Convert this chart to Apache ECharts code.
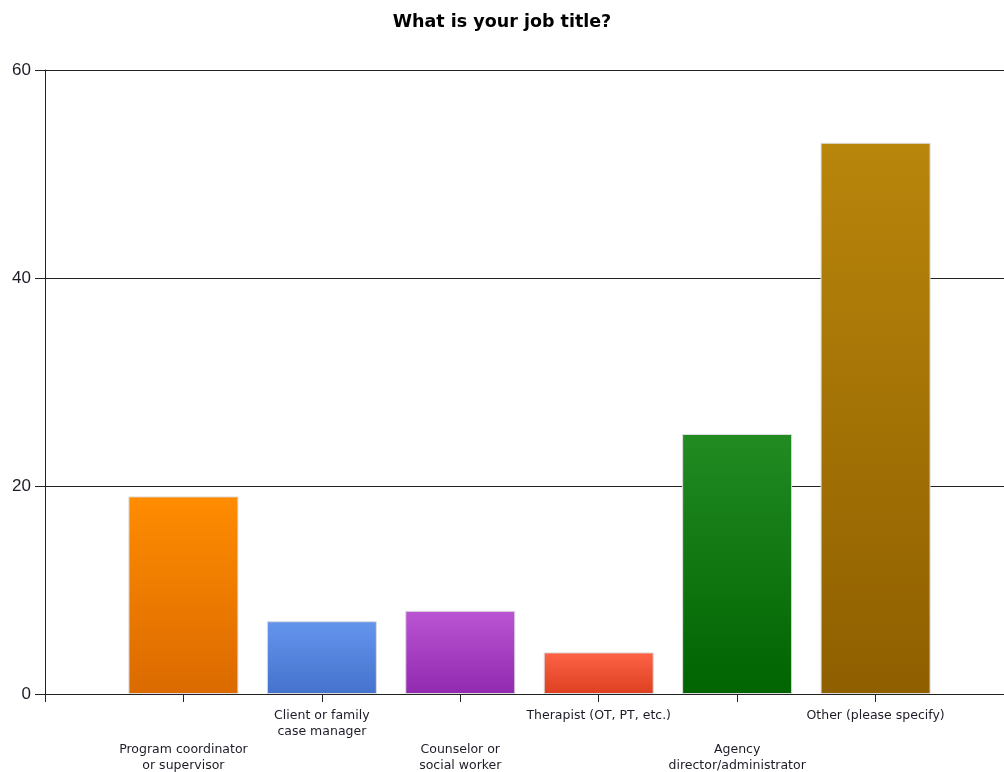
<!DOCTYPE html>
<html>
<head>
<meta charset="utf-8">
<title>What is your job title?</title>
<script src="https://cdn.jsdelivr.net/npm/echarts@6/dist/echarts.min.js"></script>
<style>
  html, body { margin: 0; padding: 0; background: #fff; }
  #chart { width: 1004px; height: 772px; }
</style>
</head>
<body>
<div id="chart"></div>
<script>
// Survey responses: job title of respondents
const categories = [
  'Program coordinator\nor supervisor',
  'Client or family\ncase manager',
  'Counselor or\nsocial worker',
  'Therapist (OT, PT, etc.)',
  'Agency\ndirector/administrator',
  'Other (please specify)'
];
const counts = [19, 7, 8, 4, 25, 53];
const yTicks = [0, 20, 40, 60];

// top / bottom colours of each bar's vertical gradient
const barTop =    ['#ff8c00', '#6495ed', '#ba55d3', '#ff6347', '#228b22', '#b8860b'];
const barBottom = ['#db6a00', '#4472cc', '#9229b0', '#dc4020', '#006400', '#8f5f00'];

// The category axis has an empty slot at each end so the bars sit on tick marks.
const axisData = [''].concat(categories, ['']);
const seriesData = [null].concat(counts.map((v, i) => ({
  value: v,
  itemStyle: {
    color: new echarts.graphic.LinearGradient(0, 0, 0, 1, [
      { offset: 0, color: barTop[i] },
      { offset: 1, color: barBottom[i] }
    ])
  }
})), [null]);

const chart = echarts.init(document.getElementById('chart'), null, { renderer: 'canvas' });

chart.setOption({
  animation: false,
  backgroundColor: '#ffffff',
  title: {
    text: 'What is your job title?',
    left: 'center',
    top: 8,
    textStyle: {
      fontFamily: 'DejaVu Sans',
      fontWeight: 'bold',
      fontSize: 17.5,
      color: '#000'
    }
  },
  grid: {
    left: 45, top: 70, width: 969, bottom: 78,
    containLabel: false,
    outerBoundsMode: 'none'
  },
  xAxis: {
    type: 'category',
    data: axisData,
    boundaryGap: false,
    axisLine: { lineStyle: { color: '#222', width: 1 } },
    axisTick: { show: true, length: 8, interval: 0, lineStyle: { color: '#222' } },
    axisLabel: {
      interval: 0,
      margin: 14,
      color: '#1c1c28',
      formatter: function (value, idx) {
        if (!value) return '';
        const lines = value.split('\n').map(s => '{t|' + s + '}').join('\n');
        // alternate categories are dropped a row lower so neighbours don't collide
        return (idx % 2 === 1) ? '{gap| }\n' + lines : lines;
      },
      rich: {
        t: { fontFamily: 'DejaVu Sans', fontSize: 12.5, lineHeight: 15.5, color: '#1c1c28', align: 'center' },
        gap: { fontSize: 11, lineHeight: 34 }
      }
    },
    splitLine: { show: false }
  },
  yAxis: {
    type: 'value',
    min: yTicks[0],
    max: yTicks[yTicks.length - 1],
    interval: yTicks[1] - yTicks[0],
    axisLine: { show: true, lineStyle: { color: '#222', width: 1 } },
    axisTick: { show: true, length: 10, lineStyle: { color: '#222' } },
    axisLabel: {
      margin: 14,
      fontFamily: 'Liberation Sans',
      fontSize: 17,
      color: '#1c1c28'
    },
    splitLine: { show: true, lineStyle: { color: '#222', width: 1 } }
  },
  series: [{
    type: 'bar',
    data: seriesData,
    barWidth: 110,
    itemStyle: { borderColor: '#dcdcdc', borderWidth: 1 }
  }]
});
</script>
</body>
</html>
